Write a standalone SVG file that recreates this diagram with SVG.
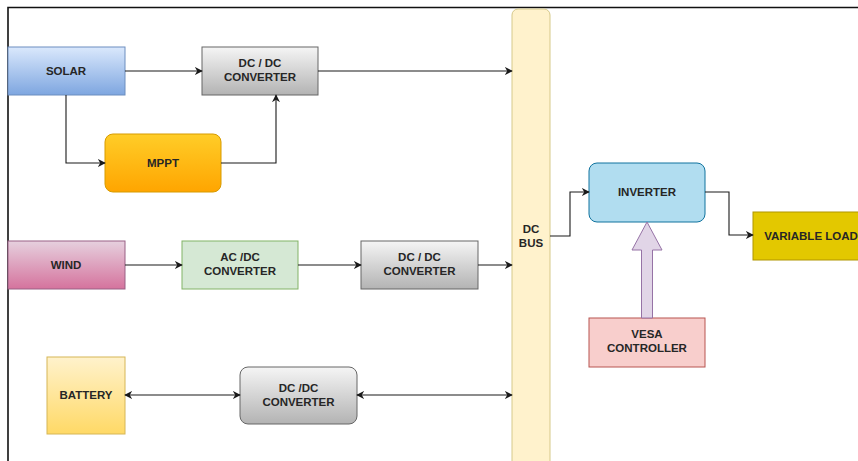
<svg xmlns="http://www.w3.org/2000/svg" width="858" height="461" viewBox="0 0 858 461">
  <style>
    .lbl { font-family: "Liberation Sans", Arial, sans-serif; font-size: 11.5px; font-weight: bold; fill: #262626; text-anchor: middle; }
    .wire { fill: none; stroke: #1a1a1a; stroke-width: 1.1; }
    .frame { fill: none; stroke: #111; stroke-width: 1.6; }
  </style>
  <defs>
    <linearGradient id="gBlue" x1="0" y1="0" x2="0" y2="1"><stop offset="0" stop-color="#dae8fc"/><stop offset="1" stop-color="#7ea6e0"/></linearGradient>
    <linearGradient id="gGray" x1="0" y1="0" x2="0" y2="1"><stop offset="0" stop-color="#f5f5f5"/><stop offset="1" stop-color="#b3b3b3"/></linearGradient>
    <linearGradient id="gOrange" x1="0" y1="0" x2="0" y2="1"><stop offset="0" stop-color="#ffcd28"/><stop offset="1" stop-color="#ffa500"/></linearGradient>
    <linearGradient id="gPink" x1="0" y1="0" x2="0" y2="1"><stop offset="0" stop-color="#e6d0de"/><stop offset="1" stop-color="#d5739d"/></linearGradient>
    <linearGradient id="gYellow" x1="0" y1="0" x2="0" y2="1"><stop offset="0" stop-color="#fff2cc"/><stop offset="1" stop-color="#ffd966"/></linearGradient>
    <marker id="arr" viewBox="0 0 10 10" refX="9" refY="5" markerWidth="8" markerHeight="8" orient="auto-start-reverse" markerUnits="userSpaceOnUse">
      <path d="M0,0 L10,5 L0,10 L3,5 Z" fill="#1a1a1a"/>
    </marker>
  </defs>

  <rect width="858" height="461" fill="#ffffff"/>
  <!-- outer frame: top and left edges -->
  <path class="frame" d="M8,461 V7.5 H858"/>

  <g id="dc-bus">
    <rect x="512" y="9" width="38" height="458" rx="6" fill="#fff2cc" stroke="#d6c98a" stroke-width="1"/>
    <text class="lbl" x="531" y="233">DC</text>
    <text class="lbl" x="531" y="247">BUS</text>
  </g>

  <g id="solar">
    <rect x="8" y="47" width="117" height="48" fill="url(#gBlue)" stroke="#6c8ebf" stroke-width="1"/>
    <text class="lbl" x="66" y="75">SOLAR</text>
  </g>

  <g id="dcdc-solar">
    <rect x="202" y="47" width="116" height="48" fill="url(#gGray)" stroke="#666666" stroke-width="1"/>
    <text class="lbl" x="260" y="67">DC / DC</text>
    <text class="lbl" x="260" y="81">CONVERTER</text>
  </g>

  <g id="mppt">
    <rect x="105" y="134" width="116" height="58" rx="8" fill="url(#gOrange)" stroke="#d79b00" stroke-width="1"/>
    <text class="lbl" x="163" y="167">MPPT</text>
  </g>

  <g id="wind">
    <rect x="8" y="241" width="117" height="48" fill="url(#gPink)" stroke="#996185" stroke-width="1"/>
    <text class="lbl" x="66" y="269">WIND</text>
  </g>

  <g id="acdc">
    <rect x="182" y="241" width="116" height="48" fill="#d5e8d4" stroke="#82b366" stroke-width="1"/>
    <text class="lbl" x="240" y="261">AC /DC</text>
    <text class="lbl" x="240" y="275">CONVERTER</text>
  </g>

  <g id="dcdc-wind">
    <rect x="361" y="241" width="117" height="48" fill="url(#gGray)" stroke="#666666" stroke-width="1"/>
    <text class="lbl" x="419.5" y="261">DC / DC</text>
    <text class="lbl" x="419.5" y="275">CONVERTER</text>
  </g>

  <g id="battery">
    <rect x="47" y="357" width="78" height="77" fill="url(#gYellow)" stroke="#d6b656" stroke-width="1"/>
    <text class="lbl" x="86" y="399">BATTERY</text>
  </g>

  <g id="dcdc-battery">
    <rect x="240" y="367" width="117" height="57" rx="8" fill="url(#gGray)" stroke="#666666" stroke-width="1"/>
    <text class="lbl" x="298.5" y="392">DC /DC</text>
    <text class="lbl" x="298.5" y="406">CONVERTER</text>
  </g>

  <g id="inverter">
    <rect x="589" y="163" width="116" height="59" rx="8" fill="#b1ddf0" stroke="#10739e" stroke-width="1"/>
    <text class="lbl" x="647" y="196">INVERTER</text>
  </g>

  <g id="variable-load">
    <rect x="753" y="212" width="117" height="48" fill="#e3c800" stroke="#b09500" stroke-width="1"/>
    <text class="lbl" x="811" y="240">VARIABLE LOAD</text>
  </g>

  <g id="vesa-controller">
    <rect x="589" y="318" width="116" height="49" fill="#f8cecc" stroke="#b85450" stroke-width="1"/>
    <text class="lbl" x="647" y="338">VESA</text>
    <text class="lbl" x="647" y="352">CONTROLLER</text>
  </g>

  <g id="connectors">
    <path class="wire" d="M125,71 H202" marker-end="url(#arr)"/>
    <path class="wire" d="M66,95 V163 H105" marker-end="url(#arr)"/>
    <path class="wire" d="M221,163 H276 V95" marker-end="url(#arr)"/>
    <path class="wire" d="M318,71 H512" marker-end="url(#arr)"/>
    <path class="wire" d="M125,265 H182" marker-end="url(#arr)"/>
    <path class="wire" d="M298,265 H361" marker-end="url(#arr)"/>
    <path class="wire" d="M478,265 H512" marker-end="url(#arr)"/>
    <path class="wire" d="M125,395 H240" marker-start="url(#arr)" marker-end="url(#arr)"/>
    <path class="wire" d="M357,395 H512" marker-start="url(#arr)" marker-end="url(#arr)"/>
    <path class="wire" d="M550,236 H570 V192 H589" marker-end="url(#arr)"/>
    <path class="wire" d="M705,192 H729 V235 H753" marker-end="url(#arr)"/>
    <!-- block arrow from controller up to inverter -->
    <path d="M641.5,318 V250 H632 L647,222 L662,250 H652.5 V318 Z" fill="#e1d5e7" stroke="#9673a6" stroke-width="1"/>
  </g>
</svg>
